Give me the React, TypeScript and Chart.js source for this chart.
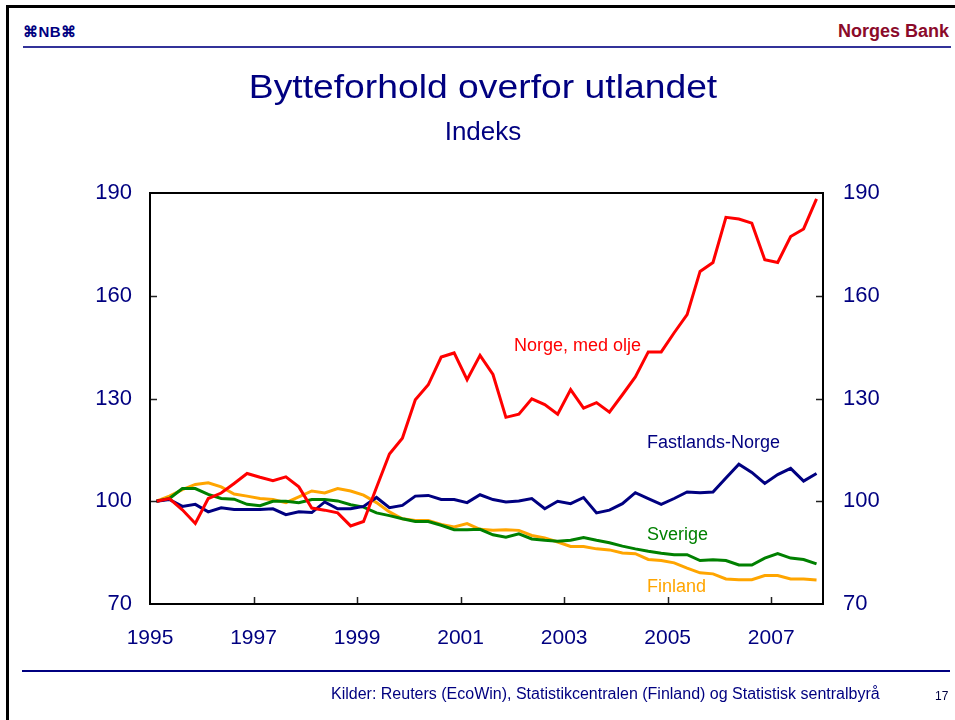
import React, { useEffect, useRef } from "react";
import { Chart, registerables } from "chart.js";

Chart.register(...registerables);

// Quarterly data, 1995 Q1 – 2007 Q4 (index = quarter number from 1995 Q1)
const startYear = 1995;
const quarters: string[] = [];
for (let y = 1995; y <= 2007; y++) for (let q = 1; q <= 4; q++) quarters.push(`${y}K${q}`);

const norgeMedOlje = [100, 100.8, 97.5, 93.5, 100.8, 102.4, 105.2, 108.1, 107, 106, 107.1, 104.2, 98, 97.4, 96.6, 92.8, 94.1, 104, 113.8, 118.4, 129.6, 134, 142.1, 143.3, 135.5, 142.6, 137, 124.5, 125.4, 129.9, 128.2, 125.4, 132.6, 127.2, 128.8, 126, 131.1, 136.3, 143.6, 143.6, 149.2, 154.5, 167.1, 169.7, 182.9, 182.4, 181.2, 170.5, 169.7, 177.3, 179.5, 188.3];
const fastlandsNorge = [100, 100.5, 98.5, 99.1, 96.9, 98.1, 97.6, 97.6, 97.6, 97.8, 96.1, 96.9, 96.7, 99.8, 97.8, 97.8, 98.5, 101.1, 98.1, 98.8, 101.5, 101.7, 100.5, 100.5, 99.6, 101.9, 100.5, 99.8, 100.1, 100.8, 97.8, 100, 99.3, 101.1, 96.6, 97.4, 99.3, 102.5, 100.8, 99.1, 100.8, 102.7, 102.5, 102.7, 106.8, 110.8, 108.4, 105.2, 107.8, 109.6, 105.9, 108.1];
const sverige = [100, 100.8, 103.7, 103.7, 102, 100.8, 100.6, 99.1, 98.7, 100, 100, 99.6, 100.5, 100.5, 100.1, 99, 98.3, 96.6, 95.8, 94.9, 94.1, 94.1, 93, 91.7, 91.7, 91.8, 90.2, 89.5, 90.5, 89, 88.6, 88.3, 88.6, 89.4, 88.6, 87.9, 86.9, 86.1, 85.4, 84.8, 84.4, 84.4, 82.7, 82.9, 82.7, 81.4, 81.4, 83.4, 84.7, 83.4, 83, 81.7];
const finland = [100, 101.5, 103.4, 104.9, 105.4, 104.2, 102.1, 101.5, 100.8, 100.5, 99.6, 101.3, 103, 102.4, 103.7, 103, 101.8, 99.6, 96.9, 94.9, 94.4, 94.4, 93.2, 92.5, 93.5, 91.8, 91.5, 91.7, 91.5, 90, 89.3, 88.1, 86.8, 86.8, 86.1, 85.8, 84.9, 84.7, 83, 82.7, 82, 80.5, 79.1, 78.8, 77.3, 77.1, 77.1, 78.3, 78.3, 77.3, 77.3, 77];

const xTicks = [1995, 1997, 1999, 2001, 2003, 2005, 2007];
const yTicks = [70, 100, 130, 160, 190];

const seriesNames = ["Norge, med olje", "Fastlands-Norge", "Sverige", "Finland"];
const seriesColors = ["#ff0000", "#000080", "#008000", "#ffa500"];
// label anchors in data space (year, index value)
const labelX = [2002.03, 2004.6, 2004.6, 2004.6];
const labelY = [145.3, 117.0, 90.1, 75.0];

const FONT = '"Liberation Sans", Arial, Helvetica, sans-serif';
const NAVY = "#000080";

const toPoints = (vals: number[]) =>
  vals.map((v, i) => ({ x: startYear + (i + 0.5) / 4, y: v }));

const decorPlugin = {
  id: "decor",
  afterDatasetsDraw(chart: any) {
    const { ctx, chartArea, scales } = chart;
    const { left, right, top, bottom } = chartArea;
    const x = scales.x;
    const y = scales.y;
    ctx.save();
    ctx.strokeStyle = "#222";
    ctx.lineWidth = 1.5;
    ctx.beginPath();
    yTicks.slice(1, -1).forEach((v) => {
      const py = Math.round(y.getPixelForValue(v)) + 0.5;
      ctx.moveTo(left, py);
      ctx.lineTo(left + 7, py);
      ctx.moveTo(right - 7, py);
      ctx.lineTo(right, py);
    });
    xTicks.slice(1).forEach((v) => {
      const px = Math.round(x.getPixelForValue(v)) + 0.5;
      ctx.moveTo(px, bottom);
      ctx.lineTo(px, bottom - 7);
    });
    ctx.stroke();
    ctx.strokeStyle = "#000";
    ctx.lineWidth = 2;
    ctx.strokeRect(left, top, right - left, bottom - top);
    ctx.font = `18px ${FONT}`;
    ctx.textBaseline = "middle";
    ctx.textAlign = "left";
    seriesNames.forEach((name, i) => {
      ctx.fillStyle = seriesColors[i];
      ctx.fillText(name, x.getPixelForValue(labelX[i]), y.getPixelForValue(labelY[i]));
    });
    ctx.restore();
  },
};

export default function App() {
  const canvasRef = useRef<HTMLCanvasElement | null>(null);

  useEffect(() => {
    if (!canvasRef.current) return;
    const datasets = [norgeMedOlje, fastlandsNorge, sverige, finland].map((vals, i) => ({
      label: seriesNames[i],
      data: toPoints(vals),
      borderColor: seriesColors[i],
      backgroundColor: seriesColors[i],
      borderWidth: 3,
      pointRadius: 0,
      tension: 0,
      fill: false,
      yAxisID: "y",
    }));
    const yScale = (position: string, width: number, padding: number) => ({
      type: "linear",
      position,
      min: 70,
      max: 190,
      afterBuildTicks: (s: any) => {
        s.ticks = yTicks.map((v) => ({ value: v }));
      },
      afterFit: (s: any) => {
        s.width = width;
      },
      grid: { display: false, drawTicks: false },
      border: { display: false },
      ticks: {
        color: NAVY,
        font: { family: FONT, size: 22 },
        padding,
        callback: (v: any) => String(v),
      },
    });
    const chart = new Chart(canvasRef.current, {
      type: "line",
      data: { labels: quarters, datasets } as any,
      options: {
        responsive: false,
        animation: false,
        devicePixelRatio: 1,
        layout: { padding: { top: 193, left: 0, right: 0, bottom: 0 } },
        plugins: { legend: { display: false }, tooltip: { enabled: false }, title: { display: false } },
        scales: {
          x: {
            type: "linear",
            min: 1995,
            max: 2008,
            afterBuildTicks: (s: any) => {
              s.ticks = xTicks.map((v) => ({ value: v }));
            },
            afterFit: (s: any) => {
              s.height = 116;
            },
            grid: { display: false, drawTicks: false },
            border: { display: false },
            ticks: {
              color: NAVY,
              font: { family: FONT, size: 21 },
              padding: 22,
              maxRotation: 0,
              autoSkip: false,
              callback: (v: any) => String(v),
            },
          },
          y: yScale("left", 150, 18),
          y2: yScale("right", 132, 20),
        } as any,
      },
      plugins: [decorPlugin],
    });
    return () => chart.destroy();
  }, []);

  const abs = (s: React.CSSProperties): React.CSSProperties => ({ position: "absolute", ...s });

  return (
    <div style={{ position: "fixed", left: 0, top: 0, width: 955, height: 720, background: "#fff", overflow: "hidden", fontFamily: FONT }}>
      <div style={abs({ left: 6, top: 5, width: 949, height: 3, background: "#000" })} />
      <div style={abs({ left: 6, top: 5, width: 3, height: 715, background: "#000" })} />
      <div style={abs({ left: 23, top: 24, fontSize: 15, lineHeight: "15px", fontWeight: "bold", color: NAVY, whiteSpace: "nowrap", letterSpacing: 0.5 })}>⌘NB⌘</div>
      <div style={abs({ right: 6, top: 22, fontSize: 18, lineHeight: "18px", fontWeight: "bold", color: "#8b0a2a", whiteSpace: "nowrap" })}>Norges Bank</div>
      <div style={abs({ left: 23, top: 46, width: 928, height: 2, background: "#333399" })} />
      <canvas ref={canvasRef} width={955} height={720} style={abs({ left: 0, top: 0, width: 955, height: 720 })} />
      <div style={abs({ left: 0, width: 966, top: 71, textAlign: "center", fontSize: 33, lineHeight: "32px", color: NAVY, whiteSpace: "nowrap", transform: "scaleX(1.13)" })}>Bytteforhold overfor utlandet</div>
      <div style={abs({ left: 0, width: 966, top: 118, textAlign: "center", fontSize: 26, lineHeight: "26px", color: NAVY, whiteSpace: "nowrap" })}>Indeks</div>
      <div style={abs({ left: 22, top: 670, width: 928, height: 2, background: NAVY })} />
      <div style={abs({ left: 331, top: 686, fontSize: 16, lineHeight: "16px", color: NAVY, whiteSpace: "nowrap" })}>Kilder: Reuters (EcoWin), Statistikcentralen (Finland) og Statistisk sentralbyrå</div>
      <div style={abs({ left: 935, top: 690, fontSize: 12, lineHeight: "12px", color: "#000040", whiteSpace: "nowrap" })}>17</div>
    </div>
  );
}
